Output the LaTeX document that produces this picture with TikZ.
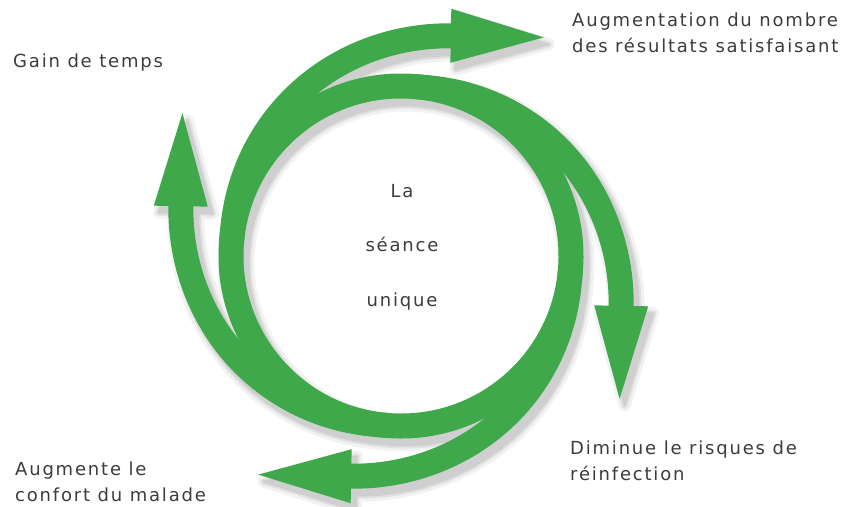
\documentclass[tikz,border=0pt]{standalone}
\usepackage{fontspec}
\newfontfamily\lblfont[LetterSpace=10]{DejaVu Sans}
\definecolor{arrowgreen}{RGB}{62,168,74}
\definecolor{labelgray}{RGB}{60,60,60}

% one arrow of the cycle: a piece of the inner ring, then a spiral out to the head
\tikzset{
  pics/cyclearrow/.style={code={
    \draw[band] (265:170) arc[start angle=265,end angle=175,radius=170]
      -- plot[domain=174:77,samples=49] (\x:{170+56*pow((175-\x)/98,1.5)});
    \begin{scope}[shift={(77:226)},rotate=-1]
      \fill[tip] (-1,27) -- (92,0) -- (-1,-27) -- cycle;
    \end{scope}
  }}
}

\begin{document}
\begin{tikzpicture}[x=1pt,y=1pt,
  band/.style={draw=arrowgreen,line width=25pt,line join=round},
  tip/.style={fill=arrowgreen},
  lbl/.style={font=\lblfont\fontsize{18}{26}\selectfont,text=labelgray,
    inner sep=0pt,align=left,anchor=base west}]
  \useasboundingbox (-401,-250) rectangle (449,256);

  % soft shadow
  \foreach \w/\o in {37/0.05,31/0.07,27/0.08} {
    \begin{scope}[shift={(5,-7)},transparency group,opacity=\o,
        band/.style={draw=black,line width=\w pt,line join=round},
        tip/.style={fill=black,draw=black,line width=\w pt-25pt,line join=round}]
      \foreach \k in {0,...,3} \pic[rotate=-90*\k] {cyclearrow};
    \end{scope}
  }

  % the four arrows
  \foreach \k in {0,...,3} \pic[rotate=-90*\k] {cyclearrow};

  % labels (base = last line)
  \node[lbl] (gain) at (-388,188) {Gain de temps};
  \node[lbl] (resultats) at (171,203) {Augmentation du nombre\\des résultats satisfaisant};
  \node[lbl] (risques) at (169,-224) {Diminue le risques de\\réinfection};
  \node[lbl] (confort) at (-386,-245) {Augmente le\\confort du malade};
  \node[lbl,align=center,anchor=base,font=\lblfont\fontsize{18}{54.5}\selectfont]
    (seance) at (1,-50) {La\\séance\\unique};
\end{tikzpicture}
\end{document}
